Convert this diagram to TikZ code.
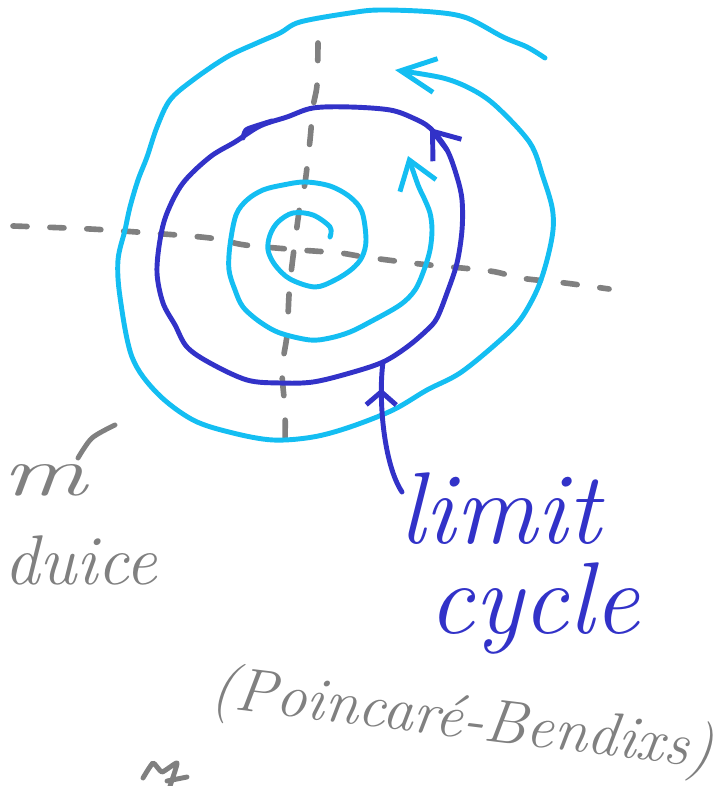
\documentclass[tikz,border=0pt]{standalone}
\usepackage{tikz}
\usetikzlibrary{arrows.meta,positioning,decorations.markings}
\definecolor{skyline}{RGB}{20,190,242}
\definecolor{cycblue}{RGB}{50,50,200}
\definecolor{pencil}{RGB}{128,128,128}

\begin{document}
\begin{tikzpicture}[
    x=0.01cm, y=-0.01cm,
    axis/.style={pencil, line width=1.6pt, line cap=round},
    orbit/.style={skyline, line width=1.4pt, line cap=round, line join=round},
    limitcyc/.style={cycblue, line width=1.4pt, line cap=round, line join=round},
    scribble/.style={pencil, line width=1.4pt, line cap=round, line join=round},
    bluenote/.style={cycblue, inner sep=0pt, font=\fontsize{29}{34}\selectfont\itshape},
    note/.style={pencil, inner sep=0pt, font=\fontsize{20}{24}\selectfont\itshape},
    midbarb/.style={postaction={decorate},
        decoration={markings, mark=at position 0.8 with {\arrow{Straight Barb[length=1.3mm,width=3mm]}}}}
]
\useasboundingbox (0,0) rectangle (727,786);

% dashed axes
\draw[axis, dash pattern={on 4pt off 6.5pt}] plot[smooth] coordinates {
    (13,226) (90,229) (150,233) (210,238) (245,245) (300,250) (340,253)
    (365,257) (420,264) (490,271) (520,278) (565,283) (609,289)};
\draw[axis, dash pattern={on 5pt off 7pt}] plot[smooth] coordinates {
    (318,43) (317,85) (313,107) (310,140) (305,183) (300,205) (292,265)
    (289,295) (287,335) (282,370) (285,410) (285,448)};

% inner spiral, going out
\draw[orbit, -{Straight Barb[length=2.7mm,width=3.8mm]}] plot[smooth, tension=0.55] coordinates {
    (330,237) (330,227) (313,215) (293,213) (278,222) (270,235) (268,250)
    (275,265) (290,279) (315,287) (335,280) (352,269) (362,257) (366,240)
    (362,212) (350,197) (330,186) (305,182) (283,185) (263,190) (247,200)
    (236,215) (230,245) (229,270) (235,290) (243,307) (260,322) (280,333)
    (310,340) (330,338) (350,332) (370,322) (400,305) (415,290) (424,270)
    (430,250) (432,230) (430,213) (424,198) (418,185) (408,156)};

% outer spiral, coming in
\draw[orbit, -{Straight Barb[length=3.5mm,width=3.4mm]}] plot[smooth, tension=0.55] coordinates {
    (545,58) (527,47) (503,37) (467,18) (433,12) (380,10) (350,13) (300,22)
    (280,33) (257,43) (227,57) (193,80) (170,100) (157,127) (147,157)
    (138,180) (130,207) (125,230) (118,260) (120,297) (132,357) (157,393)
    (193,420) (233,433) (273,440) (313,437) (350,427) (393,410) (427,390)
    (460,373) (497,343) (520,320) (537,290) (547,260) (553,230) (552,207)
    (543,177) (530,143) (497,107) (473,90) (443,78) (395,70)};

% limit cycle
\draw[limitcyc] plot[smooth cycle, tension=0.55] coordinates {
    (430,128) (413,118) (390,110) (350,107) (313,108) (287,117) (260,126)
    (235,142) (210,157) (183,183) (167,213) (160,240) (157,273) (163,303)
    (175,325) (187,347) (210,363) (247,380) (280,383) (313,382) (350,373)
    (383,362) (407,347) (427,330) (437,318) (447,293) (457,263) (462,230)
    (462,200) (457,177) (447,150)};
\draw[limitcyc] plot[smooth] coordinates {(243,138) (246,130) (256,126) (272,121)};
\draw[limitcyc, -{Straight Barb[length=2.4mm,width=3.6mm]}] (447,150) -- (430,128);

% labels
\node[bluenote, anchor=base] (lim) at (500,543) {limit};
\node[bluenote, below=0.17cm of lim, xshift=0.34cm] (cyc) {cycle};
\coordinate (tail) at (402,492);
\coordinate (touch) at (383,362);
\draw[limitcyc, midbarb] (tail) .. controls (384,465) and (378,400) .. (touch);

\node[note, font=\fontsize{17.5}{20}\selectfont\itshape, rotate=-7] (pb) at (462,722) {(Poincaré-Bendixs)};
\node[note, anchor=base east, xscale=1.5] (partm) at (88,495) {m};
\node[note, anchor=base east] (partd) at (158,584) {duice};
\draw[scribble] plot[smooth] coordinates {(78,458) (92,438) (115,425)};
\draw[scribble] plot[smooth, tension=0.3] coordinates {(143,778) (153,763) (162,772) (177,763) (170,786)};
\draw[scribble] (167,781) -- (187,777);
\end{tikzpicture}
\end{document}
